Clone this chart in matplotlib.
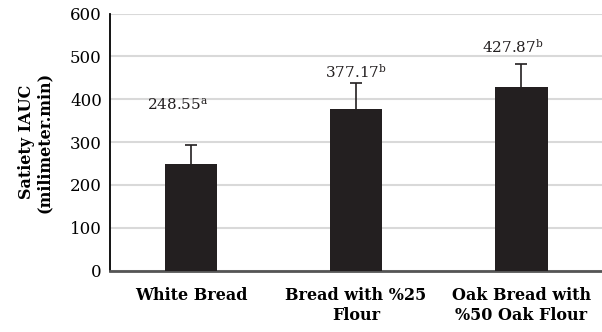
import matplotlib
matplotlib.use("Agg")
import matplotlib.pyplot as plt

# Satiety incremental AUC for the three bread types
categories = ["White Bread", "Bread with %25\nFlour", "Oak Bread with\n%50 Oak Flour"]
satiety_iauc = [248.55, 377.17, 427.87]
sd_upper = [44, 60, 55]
letters = ["a", "b", "b"]

plt.rcParams["font.family"] = "DejaVu Serif"
plt.rcParams["mathtext.fontset"] = "dejavuserif"

fig = plt.figure(figsize=(6.02, 3.32), dpi=100)
ax = fig.add_axes([0.183, 0.185, 0.817, 0.774])

x = list(range(len(categories)))
ax.bar(x, satiety_iauc, width=0.32, color="#231f20", zorder=3)
eb = ax.errorbar(x, satiety_iauc, yerr=[[0] * len(sd_upper), sd_upper],
                 fmt="none", ecolor="#231f20", elinewidth=1.2, capsize=4,
                 capthick=1.2, zorder=4)
# keep only the upper caps
eb[1][0].remove()

# value labels with significance letters
pads = [95, 28, 40]
shifts = [-0.08, 0.0, -0.05]
for i, (v, e, s) in enumerate(zip(satiety_iauc, sd_upper, letters)):
    ax.text(i + shifts[i], v + e + pads[i], f"{v:.2f}$^{{\\mathrm{{{s}}}}}$",
            ha="center", va="center", fontsize=11, color="#231f20")

ax.set_xlim(-0.49, 2.49)
ax.set_ylim(0, 600)
ax.set_yticks(range(0, 601, 100))
ax.yaxis.grid(True, color="#d9d9d9", linewidth=1.5, zorder=0)
ax.set_axisbelow(True)

ax.set_xticks(x)
ax.set_xticklabels(categories, fontweight="bold", fontsize=11.5, linespacing=1.25)
ax.tick_params(axis="x", length=0, pad=12)
ax.tick_params(axis="y", length=0, pad=6, labelsize=12)

for side in ["top", "right"]:
    ax.spines[side].set_visible(False)
ax.spines["left"].set_color("black")
ax.spines["left"].set_linewidth(1.3)
ax.spines["bottom"].set_color("#555555")
ax.spines["bottom"].set_linewidth(2)

ax.set_ylabel("Satiety IAUC\n(milimeter.min)", fontweight="bold", fontsize=11.5,
              linespacing=1.1, labelpad=12)

fig.savefig("out.png", dpi=100)
